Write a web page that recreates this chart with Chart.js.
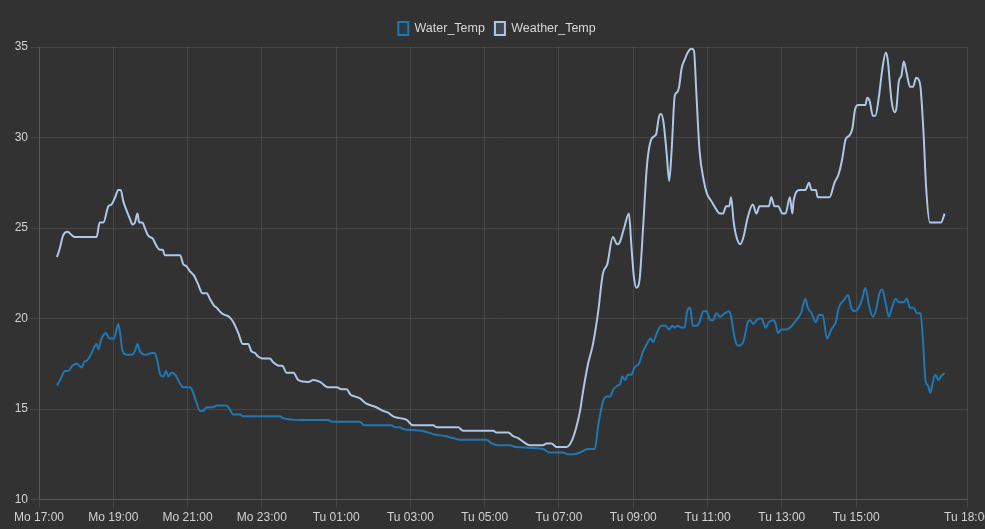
<!DOCTYPE html>
<html>
<head>
<meta charset="utf-8">
<title>Water / Weather temperature</title>
<script src="https://cdn.jsdelivr.net/npm/chart.js@4/dist/chart.umd.min.js"></script>
<style>
  html, body { margin: 0; padding: 0; background: #323232; overflow: hidden; }
  #wrap { width: 994px; height: 529px; }
</style>
</head>
<body>
<div id="wrap"><canvas id="tempChart"></canvas></div>
<script>
// time axis is in minutes after Mo 17:00
var tickMinutes = [0, 120, 240, 360, 480, 600, 720, 840, 960, 1080, 1200, 1320, 1500];
var tickLabels = ['Mo 17:00', 'Mo 19:00', 'Mo 21:00', 'Mo 23:00', 'Tu 01:00', 'Tu 03:00', 'Tu 05:00',
  'Tu 07:00', 'Tu 09:00', 'Tu 11:00', 'Tu 13:00', 'Tu 15:00', 'Tu 18:00'];

var waterMinutes = [
  29, 34, 42, 47, 54, 61, 65, 69, 73, 78,
  85, 93, 96, 100, 108, 114, 121, 124, 128, 131,
  135, 142, 150, 155, 159, 163, 173, 182, 187, 191,
  196, 201, 205, 209, 214, 220, 228, 233, 244, 248,
  255, 260, 265, 271, 281, 287, 303, 308, 314, 325,
  330, 389, 394, 421, 467, 473, 518, 526, 569, 575,
  583, 588, 618, 629, 639, 658, 669, 680, 685, 723,
  731, 742, 755, 760, 771, 814, 825, 846, 855, 864,
  874, 887, 898, 903, 911, 917, 923, 928, 935, 939,
  942, 947, 951, 957, 962, 969, 976, 982, 988, 992,
  997, 1005, 1012, 1018, 1023, 1027, 1032, 1038, 1043, 1047,
  1052, 1056, 1062, 1067, 1073, 1078, 1085, 1089, 1094, 1100,
  1108, 1115, 1118, 1124, 1129, 1136, 1140, 1145, 1149, 1154,
  1159, 1164, 1167, 1174, 1179, 1187, 1190, 1194, 1199, 1207,
  1213, 1223, 1231, 1238, 1242, 1248, 1255, 1260, 1266, 1273,
  1280, 1287, 1292, 1300, 1307, 1312, 1318, 1324, 1330, 1335,
  1341, 1347, 1353, 1357, 1362, 1368, 1373, 1378, 1384, 1389,
  1397, 1402, 1407, 1413, 1418, 1424, 1428, 1432, 1436, 1440,
  1444, 1448, 1453, 1457, 1463
];
var waterTemps = [
  16.3, 16.6, 17.1, 17.1, 17.4, 17.5, 17.4, 17.3, 17.6, 17.7,
  18.1, 18.6, 18.3, 18.8, 19.2, 18.9, 18.9, 19.2, 19.7, 19.2,
  18.2, 18.0, 18.0, 18.2, 18.6, 18.2, 18.0, 18.1, 18.1, 17.7,
  16.9, 16.8, 17.1, 16.8, 17.0, 16.9, 16.4, 16.2, 16.2, 16.0,
  15.3, 14.9, 14.9, 15.1, 15.1, 15.2, 15.2, 15.0, 14.7, 14.7,
  14.6, 14.6, 14.5, 14.4, 14.4, 14.3, 14.3, 14.1, 14.1, 14.0,
  14.0, 13.9, 13.8, 13.7, 13.6, 13.5, 13.4, 13.3, 13.3, 13.3,
  13.1, 13.0, 13.0, 13.0, 12.9, 12.8, 12.6, 12.6, 12.5, 12.5,
  12.6, 12.8, 12.8, 14.0, 15.4, 15.7, 15.7, 16.1, 16.3, 16.4,
  16.8, 16.6, 16.9, 16.9, 17.3, 17.5, 18.2, 18.6, 18.9, 18.7,
  19.1, 19.6, 19.6, 19.4, 19.6, 19.5, 19.6, 19.5, 19.5, 20.4,
  20.6, 19.6, 19.6, 19.8, 20.4, 20.4, 19.9, 19.9, 20.3, 20.1,
  20.3, 20.4, 20.1, 18.9, 18.5, 18.6, 19.0, 19.8, 19.9, 19.7,
  19.9, 20.0, 20.0, 19.5, 19.8, 19.9, 19.7, 19.2, 19.4, 19.4,
  19.5, 19.9, 20.3, 21.1, 20.6, 20.3, 19.8, 20.2, 20.2, 18.9,
  19.4, 19.8, 20.6, 21.0, 21.3, 20.6, 20.4, 20.6, 21.1, 21.7,
  20.7, 20.1, 20.6, 21.3, 21.6, 20.8, 20.1, 20.6, 21.1, 20.9,
  20.9, 21.1, 20.6, 20.6, 20.3, 20.3, 18.8, 16.6, 16.3, 15.9,
  16.5, 16.9, 16.6, 16.8, 17.0
];

var weatherMinutes = [
  29, 33, 39, 46, 53, 58, 93, 98, 104, 112,
  117, 123, 128, 132, 136, 140, 147, 151, 155, 159,
  162, 167, 171, 176, 184, 190, 195, 200, 203, 228,
  233, 238, 244, 250, 257, 264, 271, 276, 283, 287,
  295, 300, 307, 314, 322, 329, 338, 343, 349, 354,
  361, 373, 378, 388, 393, 400, 411, 419, 435, 443,
  454, 467, 481, 489, 497, 503, 510, 518, 529, 537,
  545, 556, 564, 572, 583, 594, 604, 637, 642, 677,
  685, 693, 734, 739, 758, 766, 774, 782, 793, 814,
  820, 828, 836, 844, 852, 860, 868, 874, 879, 887,
  895, 903, 911, 918, 927, 934, 938, 946, 953, 957,
  961, 965, 970, 976, 982, 988, 995, 997, 1002, 1005,
  1009, 1014, 1018, 1022, 1027, 1031, 1034, 1038, 1043, 1048,
  1054, 1058, 1062, 1067, 1074, 1079, 1086, 1091, 1100, 1105,
  1110, 1115, 1118, 1122, 1126, 1133, 1138, 1145, 1153, 1159,
  1164, 1179, 1183, 1188, 1194, 1201, 1206, 1213, 1217, 1219,
  1229, 1238, 1244, 1248, 1255, 1258, 1277, 1285, 1292, 1298,
  1303, 1309, 1314, 1318, 1323, 1335, 1338, 1342, 1347, 1351,
  1357, 1362, 1368, 1371, 1377, 1382, 1385, 1389, 1393, 1397,
  1402, 1407, 1412, 1417, 1421, 1424, 1429, 1433, 1439, 1457,
  1463
];
var weatherTemps = [
  23.4, 23.8, 24.6, 24.8, 24.6, 24.5, 24.5, 25.3, 25.3, 26.2,
  26.3, 26.7, 27.1, 27.1, 26.5, 26.1, 25.5, 25.2, 25.3, 25.8,
  25.3, 25.3, 25.0, 24.6, 24.4, 24.0, 23.8, 23.8, 23.5, 23.5,
  23.0, 22.9, 22.6, 22.4, 21.9, 21.4, 21.4, 21.1, 20.7, 20.6,
  20.3, 20.2, 20.1, 19.8, 19.2, 18.6, 18.6, 18.2, 18.1, 17.9,
  17.8, 17.8, 17.6, 17.4, 17.4, 17.0, 17.0, 16.6, 16.5, 16.6,
  16.5, 16.2, 16.2, 16.1, 16.1, 15.8, 15.7, 15.6, 15.3, 15.2,
  15.1, 14.9, 14.8, 14.6, 14.5, 14.4, 14.1, 14.1, 14.0, 14.0,
  13.8, 13.8, 13.8, 13.7, 13.7, 13.5, 13.4, 13.2, 13.0, 13.0,
  13.1, 13.1, 12.9, 12.9, 12.9, 13.2, 14.0, 14.9, 16.0, 17.5,
  18.6, 20.3, 22.5, 23.0, 24.5, 24.1, 24.2, 25.1, 25.8, 24.0,
  22.3, 21.7, 22.1, 25.1, 28.4, 29.8, 30.1, 30.2, 31.2, 31.3,
  30.8, 29.1, 27.6, 29.3, 32.3, 32.5, 32.8, 33.8, 34.3, 34.7,
  34.9, 34.8, 32.4, 29.3, 27.6, 26.9, 26.5, 26.2, 25.8, 25.8,
  26.2, 26.2, 26.7, 25.4, 24.6, 24.1, 24.5, 25.6, 26.3, 25.8,
  26.2, 26.2, 26.7, 26.2, 26.2, 25.8, 25.8, 26.7, 25.8, 26.5,
  27.1, 27.1, 27.5, 27.1, 27.1, 26.7, 26.7, 27.5, 28.0, 28.9,
  29.9, 30.1, 30.5, 31.5, 31.8, 31.8, 32.2, 32.0, 31.2, 31.2,
  32.3, 33.7, 34.7, 34.3, 32.1, 31.4, 31.6, 33.1, 33.4, 34.2,
  33.5, 32.8, 32.8, 33.3, 33.2, 32.8, 30.2, 27.3, 25.3, 25.3,
  25.8
];

function toPoints(minutes, temps) {
  return minutes.map(function (m, i) { return { x: m, y: temps[i] }; });
}

// a little more room between the legend and the plot
var legendGap = {
  id: 'legendGap',
  beforeInit: function (chart) {
    var fit = chart.legend.fit;
    chart.legend.fit = function () {
      fit.call(this);
      this.height += 2;
    };
  }
};

Chart.defaults.font.family = "'Liberation Sans', Arial, sans-serif";
Chart.defaults.font.size = 12;
Chart.defaults.color = '#d2d2d2';

var gridColor = 'rgba(255, 255, 255, 0.1)';

var ctx = document.getElementById('tempChart').getContext('2d');
window.tempChart = new Chart(ctx, {
  type: 'line',
  data: {
    datasets: [
      {
        label: 'Water_Temp',
        data: toPoints(waterMinutes, waterTemps),
        borderColor: '#1f77b4',
        backgroundColor: 'rgba(31, 119, 180, 0.12)',
        borderWidth: 2,
        pointRadius: 0,
        fill: false,
        cubicInterpolationMode: 'monotone'
      },
      {
        label: 'Weather_Temp',
        data: toPoints(weatherMinutes, weatherTemps),
        borderColor: '#aec7e8',
        backgroundColor: 'rgba(174, 199, 232, 0.15)',
        borderWidth: 2,
        pointRadius: 0,
        fill: false,
        cubicInterpolationMode: 'monotone'
      }
    ]
  },
  options: {
    responsive: true,
    maintainAspectRatio: false,
    animation: false,
    layout: {
      padding: { top: 12, left: 0, right: 0, bottom: 1 }
    },
    plugins: {
      legend: {
        labels: {
          boxWidth: 10,
          boxHeight: 13,
          padding: 10,
          color: '#d8d8d8',
          font: { size: 12.5 }
        }
      },
      tooltip: { enabled: false }
    },
    scales: {
      x: {
        type: 'linear',
        min: 0,
        max: 1500,
        grid: { color: gridColor, tickLength: 8 },
        border: { color: gridColor },
        afterBuildTicks: function (axis) {
          axis.ticks = tickMinutes.map(function (m) { return { value: m }; });
        },
        ticks: {
          autoSkip: false,
          maxRotation: 0,
          callback: function (value, index) { return tickLabels[index]; }
        }
      },
      y: {
        min: 10,
        max: 35,
        grid: { color: gridColor, tickLength: 8 },
        border: { color: gridColor },
        ticks: { stepSize: 5 },
        afterFit: function (axis) { axis.width = 39; }
      }
    }
  },
  plugins: [legendGap]
});
</script>
</body>
</html>
